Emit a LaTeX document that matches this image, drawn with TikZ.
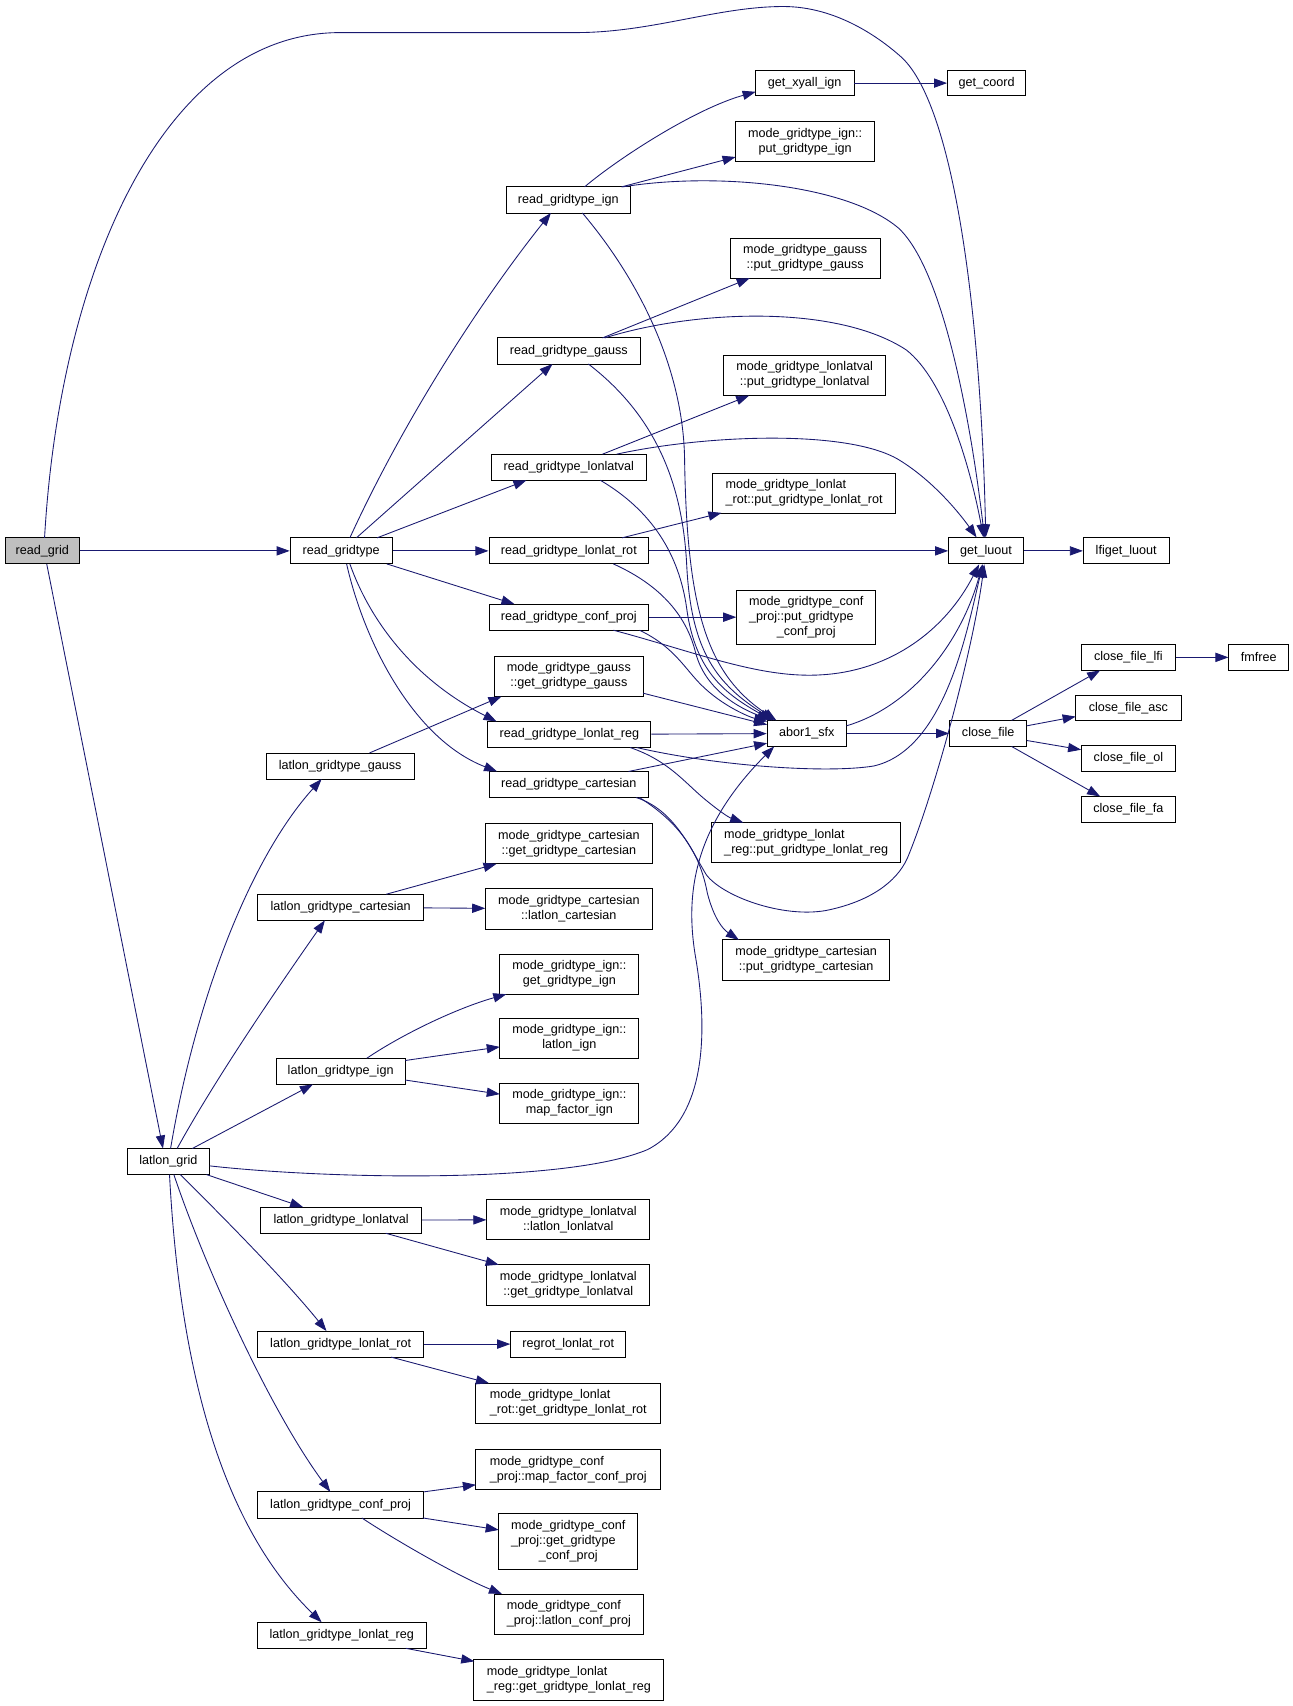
\documentclass[tikz,border=0pt]{standalone}
\usepackage{fontspec}
\setmainfont{Liberation Sans}
\usetikzlibrary{arrows.meta,calc}
\definecolor{edgecol}{RGB}{25,25,112}
\definecolor{rootfill}{RGB}{191,191,191}
\newcommand{\twol}[2]{\begin{tabular}{@{}l@{}}#1\\\multicolumn{1}{@{}c@{}}{#2}\end{tabular}}
\newcommand{\threel}[3]{\begin{tabular}{@{}l@{}}#1\\#2\\\multicolumn{1}{@{}c@{}}{#3}\end{tabular}}
\tikzset{
  fn/.style={draw=black, line width=0.8pt, fill=white, rectangle, inner sep=0pt, font=\fontsize{11.6}{13.8}\selectfont},
  edg/.style={draw=edgecol, line width=0.8pt, -{Triangle[length=12pt,width=8.5pt]}},
}
\newcommand{\gn}[6][]{\node[fn,#1,minimum width=#4pt,minimum height=#5pt] (#2) at (#3) {#6};}
\begin{document}
\begin{tikzpicture}[x=1pt,y=-1pt]
\useasboundingbox (0,0) rectangle (1190,1570.1);
\fill[white] (0,0) rectangle (1190,1570.1);
% ---- nodes ----
\gn[fill=rootfill]{rg}{39,507}{68}{24}{read\_grid}
\gn{rgt}{314,507}{94}{24}{read\_gridtype}
\gn{ign}{523,184}{114}{24}{read\_gridtype\_ign}
\gn{gauss}{523.5,323}{131}{24}{read\_gridtype\_gauss}
\gn{llv}{523.5,430}{143}{24}{read\_gridtype\_lonlatval}
\gn{rot}{523.5,507}{147}{24}{read\_gridtype\_lonlat\_rot}
\gn{cp}{523.5,568}{147}{24}{read\_gridtype\_conf\_proj}
\gn{gg}{523.5,622.5}{137}{37}{\twol{mode\_gridtype\_gauss}{::get\_gridtype\_gauss}}
\gn{reg}{524,676}{150}{24}{read\_gridtype\_lonlat\_reg}
\gn{cart}{523.5,722}{147}{24}{read\_gridtype\_cartesian}
\gn{lgg}{313,705}{136}{24}{latlon\_gridtype\_gauss}
\gn{gc}{523.5,776.5}{153}{37}{\twol{mode\_gridtype\_cartesian}{::get\_gridtype\_cartesian}}
\gn{lgc}{313.5,835}{153}{24}{latlon\_gridtype\_cartesian}
\gn{lc}{523.5,836.5}{153}{37}{\twol{mode\_gridtype\_cartesian}{::latlon\_cartesian}}
\gn{gi}{524,896.5}{128}{37}{\twol{mode\_gridtype\_ign::}{get\_gridtype\_ign}}
\gn{lgi}{313.5,986}{119}{24}{latlon\_gridtype\_ign}
\gn{li}{524,955.5}{128}{37}{\twol{mode\_gridtype\_ign::}{latlon\_ign}}
\gn{mi}{524,1015.5}{128}{37}{\twol{mode\_gridtype\_ign::}{map\_factor\_ign}}
\gn{lg}{155,1069}{76}{24}{latlon\_grid}
\gn{lgl}{314,1123}{148}{24}{latlon\_gridtype\_lonlatval}
\gn{ll}{523,1122.5}{150}{37}{\twol{mode\_gridtype\_lonlatval}{::latlon\_lonlatval}}
\gn{gl}{523,1182.5}{150}{37}{\twol{mode\_gridtype\_lonlatval}{::get\_gridtype\_lonlatval}}
\gn{lgr}{313.5,1237}{153}{24}{latlon\_gridtype\_lonlat\_rot}
\gn{rr}{523,1237}{106}{24}{regrot\_lonlat\_rot}
\gn{gr}{523,1291.5}{170}{37}{\twol{mode\_gridtype\_lonlat}{\_rot::get\_gridtype\_lonlat\_rot}}
\gn{lgcp}{313.5,1385}{153}{24}{latlon\_gridtype\_conf\_proj}
\gn{mcp}{523,1352.5}{170}{37}{\twol{mode\_gridtype\_conf}{\_proj::map\_factor\_conf\_proj}}
\gn{gcp}{523,1418.5}{128}{51}{\threel{mode\_gridtype\_conf}{\_proj::get\_gridtype}{\_conf\_proj}}
\gn{lcp}{523.5,1485.5}{137}{37}{\twol{mode\_gridtype\_conf}{\_proj::latlon\_conf\_proj}}
\gn{lgreg}{314.5,1505}{155}{24}{latlon\_gridtype\_lonlat\_reg}
\gn{greg}{523.5,1546}{175}{37}{\twol{mode\_gridtype\_lonlat}{\_reg::get\_gridtype\_lonlat\_reg}}
\gn{xy}{740.5,76.5}{91}{23}{get\_xyall\_ign}
\gn{coord}{908,76.5}{72}{23}{get\_coord}
\gn{pgi}{741,130.5}{128}{37}{\twol{mode\_gridtype\_ign::}{put\_gridtype\_ign}}
\gn{pgg}{741,237.5}{138}{37}{\twol{mode\_gridtype\_gauss}{::put\_gridtype\_gauss}}
\gn{pgl}{740.5,345.5}{149}{37}{\twol{mode\_gridtype\_lonlatval}{::put\_gridtype\_lonlatval}}
\gn{pgr}{740,454}{168}{37}{\twol{mode\_gridtype\_lonlat}{\_rot::put\_gridtype\_lonlat\_rot}}
\gn{luout}{907.5,507}{69}{24}{get\_luout}
\gn{lfi}{1036.5,507}{79}{24}{lfiget\_luout}
\gn{pgcp}{742,568}{128}{50}{\threel{mode\_gridtype\_conf}{\_proj::put\_gridtype}{\_conf\_proj}}
\gn{abor}{742.5,675}{73}{24}{abor1\_sfx}
\gn{cf}{909.5,675}{71}{24}{close\_file}
\gn{cfl}{1038.5,605}{87}{24}{close\_file\_lfi}
\gn{fm}{1158.5,605}{55}{24}{fmfree}
\gn{cfa}{1038.5,651.5}{97}{23}{close\_file\_asc}
\gn{cfo}{1038.5,698}{87}{24}{close\_file\_ol}
\gn{cffa}{1038.5,745}{87}{24}{close\_file\_fa}
\gn{pgreg}{742,775.5}{174}{37}{\twol{mode\_gridtype\_lonlat}{\_reg::put\_gridtype\_lonlat\_reg}}
\gn{pgc}{742,883.5}{154}{37}{\twol{mode\_gridtype\_cartesian}{::put\_gridtype\_cartesian}}
% ---- edges ----
\draw[edg] (rg) -- (rgt);
\draw[edg] ($(rg)+(2,-12)$) .. controls (55,250) and (150,30) .. (313,30) -- (530,30)
   .. controls (600,30) and (660,6) .. (721,6) .. controls (770,6) and (810,35) .. (830,53)
   .. controls (880,100) and (903,300) .. (luout);
\draw[edg] ($(rg)+(4,12)$) -- ($(lg)+(-5,-12)$);
\draw[edg] ($(rgt)+(8,-12)$) .. controls (370,390) and (440,280) .. ($(ign)+(-16,12)$);
\draw[edg] ($(rgt)+(14,-12)$) -- ($(gauss)+(-15,12)$);
\draw[edg] ($(rgt)+(33,-12)$) -- ($(llv)+(-39,12)$);
\draw[edg] (rgt) -- (rot);
\draw[edg] ($(rgt)+(42,12)$) -- ($(cp)+(-50,-12)$);
\draw[edg] ($(rgt)+(8,12)$) .. controls (340,570) and (380,625) .. ($(reg)+(-67,-12)$);
\draw[edg] ($(rgt)+(5,12)$) .. controls (335,590) and (380,680) .. ($(cart)+(-66,-12)$);
% read_gridtype_ign
\draw[edg] ($(ign)+(15,-12)$) .. controls (570,145) and (640,100) .. ($(xy)+(-45,8)$);
\draw[edg] ($(ign)+(49,-12)$) -- ($(pgi)+(-64,14)$);
\draw[edg] ($(ign)+(50,-12)$) .. controls (660,158) and (780,170) .. (827,210)
   .. controls (870,250) and (895,400) .. (luout);
\draw[edg] ($(ign)+(13,12)$) .. controls (590,260) and (628,340) .. (630,420)
   .. controls (632,560) and (650,620) .. ($(abor)+(-28,-12)$);
\draw[edg] (xy) -- (coord);
% read_gridtype_gauss
\draw[edg] ($(gauss)+(31,-12)$) -- ($(pgg)+(-51,18.5)$);
\draw[edg] ($(gauss)+(33,-12)$) .. controls (640,285) and (770,280) .. (834,322)
   .. controls (870,350) and (893,430) .. (luout);
\draw[edg] ($(gauss)+(18,12)$) .. controls (600,380) and (628,440) .. (632,520)
   .. controls (636,600) and (660,630) .. ($(abor)+(-30,-12)$);
% read_gridtype_lonlatval
\draw[edg] ($(llv)+(31,-12)$) -- ($(pgl)+(-51,18.5)$);
\draw[edg] ($(llv)+(44,-12)$) .. controls (650,400) and (780,395) .. (827,423)
   .. controls (860,443) and (885,475) .. (luout);
\draw[edg] ($(llv)+(29,12)$) .. controls (600,470) and (625,510) .. (632,560)
   .. controls (640,620) and (670,640) .. ($(abor)+(-32,-12)$);
% read_gridtype_lonlat_rot
\draw[edg] ($(rot)+(49,-12)$) -- ($(pgr)+(-76,18)$);
\draw[edg] (rot) -- (luout);
\draw[edg] ($(rot)+(41,12)$) .. controls (600,535) and (630,560) .. (640,600)
   .. controls (650,640) and (690,655) .. ($(abor)+(-34,-12)$);
% read_gridtype_conf_proj
\draw[edg] (cp) -- (pgcp);
\draw[edg] ($(cp)+(41,12)$) .. controls (640,600) and (700,625) .. (757,621)
   .. controls (820,617) and (870,580) .. (luout);
\draw[edg] ($(cp)+(65,12)$) .. controls (620,595) and (630,615) .. (645,630)
   .. controls (665,650) and (690,660) .. ($(abor)+(-36.5,-11)$);
\draw[edg] ($(gg)+(68.5,15.5)$) -- ($(abor)+(-36.5,-8)$);
% read_gridtype_lonlat_reg
\draw[edg] (reg) -- (abor);
\draw[edg] ($(reg)+(62,12)$) .. controls (660,705) and (760,712) .. (804,705)
   .. controls (870,690) and (890,580) .. (luout);
\draw[edg] ($(reg)+(56,12)$) .. controls (615,700) and (630,720) .. (648,735)
   .. controls (660,745) and (670,752) .. ($(pgreg)+(-58,-18.5)$);
% read_gridtype_cartesian
\draw[edg] ($(cart)+(55,-12)$) -- ($(abor)+(-36.5,9)$);
\draw[edg] ($(cart)+(62,12)$) .. controls (620,745) and (635,780) .. (650,805)
   .. controls (665,825) and (720,845) .. (760,838)
   .. controls (800,830) and (825,812) .. (835,790)
   .. controls (860,730) and (895,600) .. (luout);
\draw[edg] ($(cart)+(65,12)$) .. controls (630,760) and (645,790) .. (651,822)
   .. controls (657,845) and (665,855) .. ($(pgc)+(-62,-18.5)$);
% abor1_sfx, get_luout, close_file
\draw[edg] ($(abor)+(36.5,-7)$) .. controls (840,650) and (885,590) .. (luout);
\draw[edg] (abor) -- (cf);
\draw[edg] (luout) -- (lfi);
\draw[edg] ($(cf)+(21.5,-12)$) -- ($(cfl)+(-26,12)$);
\draw[edg] ($(cf)+(35.5,-7)$) -- ($(cfa)+(-48.5,8)$);
\draw[edg] ($(cf)+(35.5,6.5)$) -- ($(cfo)+(-43.5,-8)$);
\draw[edg] ($(cf)+(21.5,12)$) -- ($(cffa)+(-26,-12)$);
\draw[edg] (cfl) -- (fm);
% latlon_grid
\draw[edg] ($(lg)+(2,-12)$) .. controls (180,920) and (230,790) .. ($(lgg)+(-17,12)$);
\draw[edg] ($(lg)+(8,-12)$) .. controls (200,990) and (255,910) .. ($(lgc)+(-14.5,12)$);
\draw[edg] ($(lg)+(22,-12)$) -- ($(lgi)+(-25.5,12)$);
\draw[edg] ($(lg)+(38,4)$) .. controls (300,1085) and (520,1090) .. (596,1058)
   .. controls (650,1030) and (652,950) .. (640,880)
   .. controls (630,820) and (640,760) .. ($(abor)+(-30,12)$);
\draw[edg] ($(lg)+(35,12)$) -- ($(lgl)+(-35,-12)$);
\draw[edg] ($(lg)+(11,12)$) .. controls (200,1115) and (260,1175) .. ($(lgr)+(-13,-12)$);
\draw[edg] ($(lg)+(5,12)$) .. controls (190,1170) and (250,1300) .. ($(lgcp)+(-9.5,-12)$);
\draw[edg] ($(lg)+(1,12)$) .. controls (165,1250) and (200,1400) .. ($(lgreg)+(-18.5,-12)$);
% latlon_gridtype_*
\draw[edg] ($(lgg)+(27,-12)$) -- ($(gg)+(-62,18.5)$);
\draw[edg] ($(lgc)+(42,-12)$) -- ($(gc)+(-66.5,18.5)$);
\draw[edg] (lgc) -- (lc);
\draw[edg] ($(lgi)+(24,-12)$) .. controls (370,952) and (420,928) .. ($(gi)+(-58,18.5)$);
\draw[edg] ($(lgi)+(59.5,-10)$) -- ($(li)+(-64,8)$);
\draw[edg] ($(lgi)+(59.5,8)$) -- ($(mi)+(-64,-8.5)$);
\draw[edg] (lgl) -- (ll);
\draw[edg] ($(lgl)+(41,12)$) -- ($(gl)+(-64,-18.5)$);
\draw[edg] (lgr) -- (rr);
\draw[edg] ($(lgr)+(46.5,12)$) -- ($(gr)+(-73,-18.5)$);
\draw[edg] ($(lgcp)+(76.5,-12)$) -- ($(mcp)+(-85,14)$);
\draw[edg] ($(lgcp)+(75.5,12)$) -- ($(gcp)+(-64,-10.5)$);
\draw[edg] ($(lgcp)+(19.5,12)$) .. controls (360,1415) and (420,1450) .. ($(lcp)+(-61.5,-18.5)$);
\draw[edg] ($(lgreg)+(59,12)$) -- ($(greg)+(-87,-17)$);
\end{tikzpicture}
\end{document}
